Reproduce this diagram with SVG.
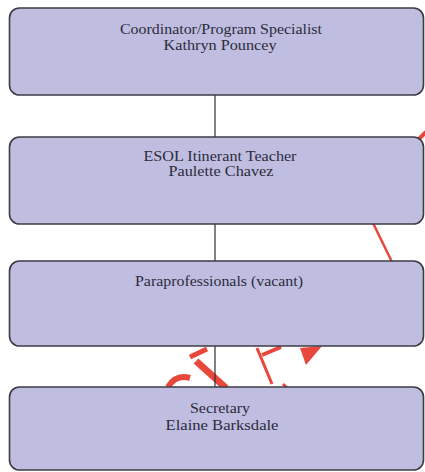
<svg xmlns="http://www.w3.org/2000/svg" width="425" height="472" viewBox="0 0 425 472">
  <style>
    .box { fill: #bfbde0; stroke: #3c3c44; stroke-width: 1.6; }
    .lbl { font-family: "Liberation Serif", "Times New Roman", serif; font-size: 14px; fill: #2c2c3c; text-anchor: middle; }
    .link { stroke: #2e2e2e; stroke-width: 1.2; fill: none; }
    .stamp { stroke: #e8473c; fill: none; stroke-linecap: butt; }
  </style>
  <rect width="425" height="472" fill="#ffffff"/>

  <!-- red stamp strokes showing between the boxes -->
  <g id="stamp">
    <path class="stamp" stroke-width="4" d="M418 140 L426 132"/>
    <path class="stamp" stroke-width="2.5" d="M373 223 L392 262"/>
    <path class="stamp" stroke-width="6" d="M168 387 Q176 374 190 378"/>
    <path class="stamp" stroke-width="7" d="M196 361 L226 388"/>
    <path class="stamp" stroke-width="5" d="M190 357 L207 349"/>
    <path class="stamp" stroke-width="3" d="M257 348 L272 384"/>
    <path class="stamp" stroke-width="4" d="M262 355 L281 347"/>
    <path class="stamp" stroke-width="3" d="M283 384 L287 388"/>
    <path fill="#e8473c" d="M300 348 L322 346 L306 365 Z"/>
  </g>

  <!-- reporting lines -->
  <g id="connectors">
    <line class="link" x1="215" y1="95" x2="215" y2="137"/>
    <line class="link" x1="215" y1="224" x2="215" y2="261"/>
    <line class="link" x1="215" y1="346" x2="215" y2="387"/>
  </g>

  <g id="coordinator">
    <rect class="box" x="9.5" y="8" width="414" height="87" rx="10"/>
    <text class="lbl" x="221" y="34" textLength="202" lengthAdjust="spacingAndGlyphs">Coordinator/Program Specialist</text>
    <text class="lbl" x="220" y="50" textLength="113" lengthAdjust="spacingAndGlyphs">Kathryn Pouncey</text>
  </g>

  <g id="esol-teacher">
    <rect class="box" x="9.5" y="137" width="414" height="87" rx="10"/>
    <text class="lbl" x="220" y="161" textLength="153" lengthAdjust="spacingAndGlyphs">ESOL Itinerant Teacher</text>
    <text class="lbl" x="221" y="176" textLength="105" lengthAdjust="spacingAndGlyphs">Paulette Chavez</text>
  </g>

  <g id="paraprofessionals">
    <rect class="box" x="9.5" y="261" width="414" height="85" rx="10"/>
    <text class="lbl" x="219" y="286" textLength="168" lengthAdjust="spacingAndGlyphs">Paraprofessionals (vacant)</text>
  </g>

  <g id="secretary">
    <rect class="box" x="9.5" y="387" width="414" height="83" rx="10"/>
    <text class="lbl" x="220" y="413" textLength="60" lengthAdjust="spacingAndGlyphs">Secretary</text>
    <text class="lbl" x="222" y="430" textLength="113" lengthAdjust="spacingAndGlyphs">Elaine Barksdale</text>
  </g>
</svg>
